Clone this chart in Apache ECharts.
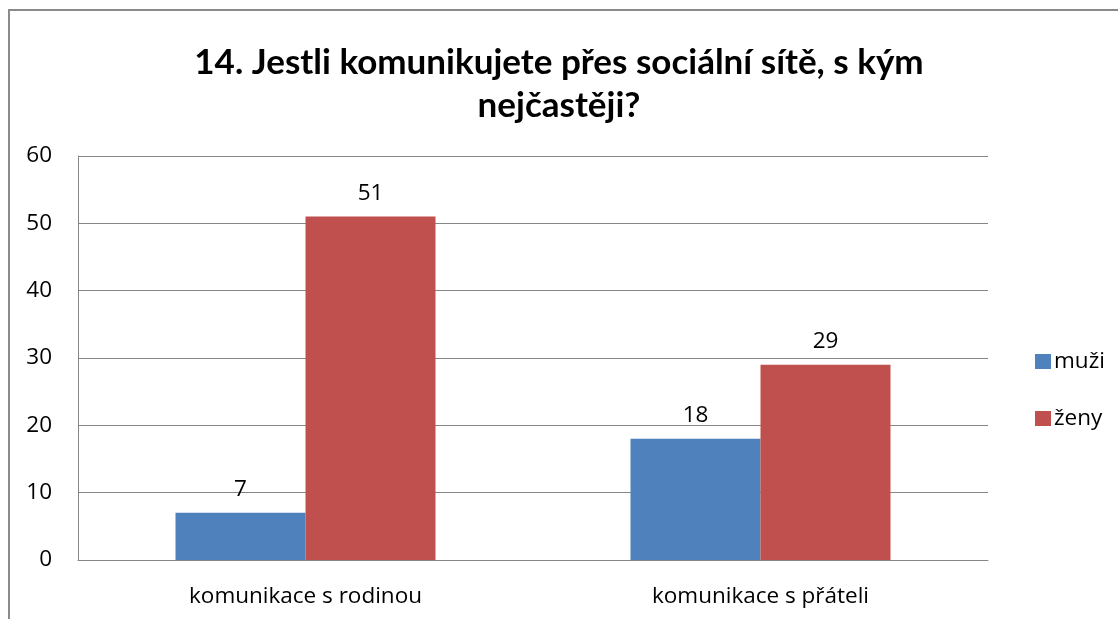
<!DOCTYPE html>
<html>
<head>
<meta charset="utf-8">
<script src="https://cdn.jsdelivr.net/npm/echarts@6/dist/echarts.min.js"></script>
<style>
  html, body { margin: 0; padding: 0; background: #fff; }
  #myChart { width: 1118px; height: 619px; }
</style>
</head>
<body>
<div id="myChart"></div>
<script>
  // data
  const categories = ['komunikace s rodinou', 'komunikace s přáteli'];
  const muzi = [7, 18];
  const zeny = [51, 29];
  const seriesNames = ['muži', 'ženy'];

  const FONT = 'Open Sans';
  const FS = 22.5;
  const myChart = echarts.init(document.getElementById('myChart'));

  let labelStyle = {
    show: true,
    position: 'top',
    distance: 12,
    color: '#000',
    fontFamily: FONT,
    fontSize: FS
  };

  let option = {
    animation: false,
    textStyle: { fontFamily: FONT },
    title: {
      text: '14. Jestli komunikujete přes sociální sítě, s kým\nnejčastěji?',
      left: 'center',
      top: 36,
      textStyle: {
        fontFamily: 'Lato',
        fontWeight: 'bold',
        fontSize: 35,
        lineHeight: 43,
        color: '#000'
      }
    },
    graphic: [{
      type: 'rect',
      shape: { x: 9, y: 10, width: 1200, height: 700 },
      style: { fill: 'none', stroke: '#8a8a8a', lineWidth: 2 },
      silent: true
    }],
    legend: {
      data: seriesNames,
      orient: 'vertical',
      left: 1030,
      top: 345,
      itemWidth: 16,
      itemHeight: 15,
      itemGap: 34,
      icon: 'rect',
      textStyle: { fontFamily: FONT, fontSize: FS, color: '#000', padding: [0, 0, 0, -2] }
    },
    grid: {
      left: 78,
      right: 130,
      top: 156,
      bottom: 59
    },
    xAxis: {
      type: 'category',
      data: categories,
      axisLine: { lineStyle: { color: '#868686', width: 1 } },
      axisTick: { show: false },
      axisLabel: { color: '#000', fontFamily: FONT, fontSize: FS, margin: 25 }
    },
    yAxis: {
      type: 'value',
      min: 0,
      max: 60,
      interval: 10,
      axisLine: { show: true, lineStyle: { color: '#868686', width: 1 } },
      axisTick: { show: false },
      axisLabel: { color: '#000', fontFamily: FONT, fontSize: FS, margin: 26 },
      splitLine: { lineStyle: { color: '#868686', width: 1 } }
    },
    series: [{
      name: seriesNames[0],
      type: 'bar',
      data: muzi,
      barWidth: 130,
      barGap: '0%',
      itemStyle: { color: '#4F81BD' },
      label: labelStyle
    }, {
      name: seriesNames[1],
      type: 'bar',
      data: zeny,
      barWidth: 130,
      barGap: '0%',
      itemStyle: { color: '#C0504D' },
      label: labelStyle
    }]
  };

  myChart.setOption(option);
</script>
</body>
</html>
